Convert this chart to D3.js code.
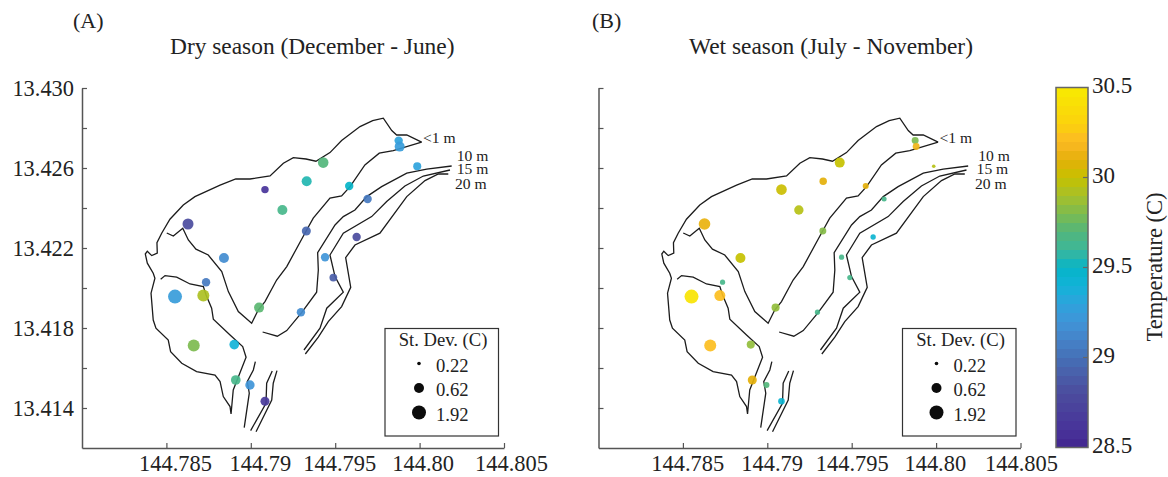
<!DOCTYPE html>
<html>
<head>
<meta charset="utf-8">
<script src="https://cdn.jsdelivr.net/npm/d3@7"></script>
<style>
  body { margin: 0; background: #fff; }
  text { font-family: "Liberation Serif", serif; fill: #222; }
</style>
</head>
<body>
<div id="chart"></div>
<script>
// station positions, same in both seasons
var stationLon = [144.79876, 144.79882, 144.79986, 144.79429, 144.79331, 144.79583, 144.79692, 144.79187, 144.79329, 144.79627, 144.7944, 144.79489, 144.79084, 144.78628, 144.78841, 144.78735, 144.78551, 144.78719, 144.79049, 144.79297, 144.78662, 144.78902, 144.78911, 144.78995, 144.79084];
var stationLat = [13.42737, 13.42707, 13.42609, 13.42627, 13.42534, 13.4251, 13.42445, 13.4239, 13.42285, 13.42255, 13.42154, 13.42052, 13.42492, 13.4232, 13.4215, 13.42029, 13.41957, 13.41962, 13.41902, 13.41879, 13.41712, 13.41717, 13.4154, 13.41515, 13.41434];

var dryTemp = [29.3, 29.25, 29.3, 29.7, 29.55, 29.5, 29.05, 29.65, 28.95, 28.8, 29.2, 28.9, 28.6, 28.8, 29.15, 29.05, 29.25, 29.92, 29.72, 29.15, 29.8, 29.4, 29.65, 29.2, 28.65];
var drySd = [0.52, 0.62, 0.5, 0.8, 0.62, 0.52, 0.52, 0.62, 0.56, 0.52, 0.52, 0.48, 0.46, 0.95, 0.62, 0.52, 1.92, 1.27, 0.62, 0.52, 1.27, 0.6, 0.6, 0.58, 0.56];

var wetTemp = [29.8, 30.15, 29.95, 30, 30.1, 30.1, 29.65, 29.95, 29.82, 29.45, 29.65, 29.65, 30.02, 30.12, 30, 29.65, 30.45, 30.22, 29.85, 29.65, 30.22, 29.85, 30.1, 29.7, 29.45];
var wetSd = [0.43, 0.43, 0.22, 0.62, 0.46, 0.37, 0.31, 0.58, 0.43, 0.33, 0.32, 0.32, 0.82, 1.14, 0.62, 0.32, 1.92, 0.95, 0.5, 0.32, 1.27, 0.5, 0.56, 0.37, 0.41];

// depth contours as [lon, lat]
var contour1mOuter = [[144.80012,13.42729],[144.79924,13.42765],[144.79864,13.42765],[144.79835,13.42787],[144.79785,13.42849],[144.79722,13.42837],[144.79647,13.42807],[144.79538,13.42737],[144.79469,13.42677],[144.79386,13.42634],[144.79327,13.42645],[144.79252,13.42652],[144.79193,13.42624],[144.79114,13.4256],[144.78995,13.42545],[144.78911,13.42545],[144.78818,13.42514],[144.78669,13.42457],[144.786,13.42415],[144.78521,13.42344],[144.78472,13.42274],[144.78444,13.42227],[144.78446,13.42174],[144.78413,13.42162],[144.78387,13.42184],[144.78375,13.4217],[144.78387,13.42124],[144.78422,13.42074],[144.78432,13.42049],[144.78409,13.41974],[144.78422,13.4184],[144.78438,13.41799],[144.78511,13.4174],[144.78525,13.41682],[144.78591,13.41624],[144.78679,13.41582],[144.78788,13.41565],[144.78818,13.41532],[144.78837,13.41457],[144.78877,13.41407],[144.78883,13.4137],[144.78896,13.4149],[144.78972,13.41654],[144.78952,13.41707],[144.78877,13.41765],[144.78778,13.41844],[144.78768,13.41899],[144.78735,13.41965],[144.78719,13.42007],[144.7864,13.4202],[144.78561,13.42054],[144.78492,13.42062],[144.78466,13.42044]];
var contour1mInner = [[144.78502,13.42275],[144.78541,13.4226],[144.78597,13.42299],[144.7863,13.4224],[144.78675,13.42194],[144.78748,13.42165],[144.78828,13.42082],[144.78867,13.41982],[144.78926,13.41882],[144.79005,13.41824],[144.79044,13.4189],[144.79084,13.41932],[144.79153,13.4204],[144.79213,13.42107],[144.79331,13.4229],[144.7937,13.42349],[144.79469,13.42449],[144.79538,13.4246],[144.79588,13.42507],[144.79676,13.42615],[144.79761,13.42674],[144.79844,13.42687],[144.80012,13.42729]];
var contour10mUpper = [[144.8019,13.4261],[144.80042,13.42594],[144.79924,13.42574],[144.79775,13.42507],[144.79687,13.42457],[144.79617,13.4239],[144.79548,13.42357],[144.79499,13.42315],[144.79396,13.42177],[144.794,13.4209],[144.7939,13.41979],[144.79301,13.41877],[144.79213,13.41787],[144.79157,13.41759],[144.7907,13.4178]];
var contour10mLower = [[144.79027,13.41632],[144.79015,13.4159],[144.78979,13.41532],[144.78991,13.41474],[144.78961,13.41302]];
var contour15mUpper = [[144.8018,13.4259],[144.80022,13.4256],[144.79913,13.4251],[144.79805,13.42432],[144.79716,13.42357],[144.79548,13.42274],[144.79469,13.42165],[144.79499,13.42057],[144.79548,13.41979],[144.7945,13.41899],[144.7941,13.41799],[144.79315,13.4169]];
var contour15mLower = [[144.79127,13.41585],[144.79094,13.41524],[144.7909,13.41424],[144.78999,13.41287]];
var contour20mUpper = [[144.8017,13.4257],[144.80111,13.4257],[144.80032,13.42537],[144.79924,13.42457],[144.79765,13.42274],[144.79617,13.42215],[144.79562,13.42152],[144.79592,13.42003],[144.79538,13.41907],[144.79459,13.41832],[144.794,13.41754],[144.79323,13.4167]];
var contour20mLower = [[144.79155,13.41587],[144.79133,13.41524],[144.79124,13.4144],[144.79031,13.41281]];
var contours = [contour1mOuter, contour1mInner, contour10mUpper, contour10mLower, contour15mUpper, contour15mLower, contour20mUpper, contour20mLower];

var contourNames = ["<1 m", "10 m", "15 m", "20 m"];
var contourNameLat = [13.42725, 13.42637, 13.42569, 13.42494];
var contourNameLonA = [144.8002, 144.8022, 144.8022, 144.8021];
var contourNameLonB = [144.8002, 144.8025, 144.8024, 144.8023];

var xTicks = [144.785, 144.79, 144.795, 144.80, 144.805];
var xTickLabels = ["144.785", "144.79", "144.795", "144.80", "144.805"];
var yTicks = [13.414, 13.416, 13.418, 13.42, 13.422, 13.424, 13.426, 13.428, 13.43];
var yTickLabels = ["13.414", "", "13.418", "", "13.422", "", "13.426", "", "13.430"];

var legendSd = [0.22, 0.62, 1.92];
var colorTicks = [28.5, 29, 29.5, 30, 30.5];
var colorTickLabels = ["28.5", "29", "29.5", "30", "30.5"];
var colorDomain = [28.5, 28.6, 28.8, 28.9, 29, 29.1, 29.2, 29.3, 29.4, 29.5, 29.6, 29.7, 29.8, 29.9, 30, 30.1, 30.2, 30.3, 30.5];
var colorRange = ["#432690", "#48339a", "#4b4c9e", "#4a5da8", "#4570b7", "#4583c8", "#3f95d8", "#2ea3dc", "#12b3d8", "#06b4c8", "#3db79a", "#53b67b", "#7dbb4f", "#a6c02a", "#c5c100", "#e4b00a", "#fcb925", "#fbd20c", "#f8ea00"];

var color = d3.scaleLinear().domain(colorDomain).range(colorRange).clamp(true);
var size = d3.scaleLinear().domain(legendSd).range([1.8, 5, 7]);

var svg = d3.select("#chart").append("svg")
  .attr("width", 1168)
  .attr("height", 477);

function drawPanel(left, letter, letterX, title, titleX, temp, sd, nameLon, yLabels, nudge, legendX) {
  var x = d3.scaleLinear().domain([144.78, 144.805]).range([left, left + 422]);
  var y = d3.scaleLinear().domain([13.412, 13.43]).range([448, 88]);

  var line = d3.line().x(d => x(d[0])).y(d => y(d[1]));

  svg.append("text").attr("x", letterX).attr("y", 28)
    .style("font-size", "22px").text(letter);
  svg.append("text").attr("x", titleX).attr("y", 54)
    .style("font-size", "23.4px").text(title);

  svg.append("g").selectAll("path")
    .data(contours)
    .enter().append("path")
    .attr("d", line)
    .attr("fill", "none")
    .attr("stroke", "#1c1c1c")
    .attr("stroke-width", 1.3);

  svg.append("g").selectAll("circle")
    .data(d3.range(stationLon.length))
    .enter().append("circle")
    .attr("cx", i => x(stationLon[i]))
    .attr("cy", i => y(stationLat[i]))
    .attr("r", i => size(sd[i]))
    .attr("fill", i => color(temp[i]))
    .attr("fill-opacity", 0.92);

  svg.append("g").selectAll("text")
    .data(contourNames)
    .enter().append("text")
    .attr("x", (d, i) => x(nameLon[i]))
    .attr("y", (d, i) => y(contourNameLat[i]))
    .style("font-size", "15.6px")
    .text(d => d);

  // axes
  var xAxis = svg.append("g")
    .attr("transform", "translate(0,448)")
    .call(d3.axisBottom(x).tickValues(xTicks).tickSize(-5).tickSizeOuter(0)
      .tickFormat((d, i) => xTickLabels[i]));
  xAxis.selectAll("text")
    .attr("dx", (d, i) => nudge[i])
    .attr("y", 7.5)
    .style("font-size", "22.4px");

  var yAxis = svg.append("g")
    .attr("transform", "translate(" + left + ",0)")
    .call(d3.axisLeft(y).tickValues(yTicks).tickSize(-5).tickSizeOuter(0)
      .tickFormat((d, i) => yLabels[i]));
  yAxis.selectAll("text")
    .attr("x", -8)
    .style("font-size", "22.4px");

  [xAxis, yAxis].forEach(function (a) {
    a.style("font-family", null);
    a.selectAll("path").attr("stroke", "#555").attr("stroke-width", 1.5);
    a.selectAll("line").attr("stroke", "#555").attr("stroke-width", 1.2);
    a.selectAll("text").attr("fill", "#222");
  });

  // size key
  svg.append("rect")
    .attr("x", legendX).attr("y", 328.5)
    .attr("width", 113.5).attr("height", 107.5)
    .attr("fill", "#fff")
    .attr("stroke", "#333")
    .attr("stroke-width", 1.2);
  svg.append("text")
    .attr("x", legendX + 58).attr("y", 346)
    .attr("text-anchor", "middle")
    .style("font-size", "18.6px")
    .text("St. Dev. (C)");

  var keyY = d3.scalePoint().domain(legendSd).range([363.5, 412.5]);
  svg.append("g").selectAll("circle")
    .data(legendSd)
    .enter().append("circle")
    .attr("cx", legendX + 34)
    .attr("cy", d => keyY(d))
    .attr("r", d => size(d))
    .attr("fill", "#0c0c0c");
  svg.append("g").selectAll("text")
    .data(legendSd)
    .enter().append("text")
    .attr("x", legendX + 51)
    .attr("y", d => keyY(d) + 8)
    .style("font-size", "18.6px")
    .text(d => d);
}

drawPanel(82, "(A)", 73, "Dry season (December - June)", 170, dryTemp, drySd, contourNameLonA,
  yTickLabels, [8.6, 9, 4, 3, 7], 385);
drawPanel(598.5, "(B)", 592, "Wet season (July - November)", 689, wetTemp, wetSd, contourNameLonB,
  yTicks.map(() => ""), [4.3, 4.3, 0, -1.3, 0.5], 902.5);

// color bar
var barY = d3.scaleLinear().domain([28.5, 30.5]).range([447.5, 87.5]);
var barSteps = d3.range(28.5, 30.5, 0.05);

svg.append("g").selectAll("rect")
  .data(barSteps)
  .enter().append("rect")
  .attr("x", 1056)
  .attr("y", d => barY(d + 0.05))
  .attr("width", 32)
  .attr("height", d => barY(d) - barY(d + 0.05) + 0.5)
  .attr("fill", d => color(d + 0.025));

svg.append("rect")
  .attr("x", 1056).attr("y", 87.5)
  .attr("width", 32).attr("height", 360)
  .attr("fill", "none")
  .attr("stroke", "#666")
  .attr("stroke-width", 1.5);

svg.append("g").selectAll("line")
  .data(colorTicks.slice(1, -1))
  .enter().append("line")
  .attr("x1", 1083).attr("x2", 1088)
  .attr("y1", d => barY(d)).attr("y2", d => barY(d))
  .attr("stroke", "#666")
  .attr("stroke-width", 1.2);

svg.append("g").selectAll("text")
  .data(colorTicks)
  .enter().append("text")
  .attr("x", 1092)
  .attr("y", d => barY(d) + 5)
  .style("font-size", "23px")
  .text((d, i) => colorTickLabels[i]);

svg.append("text")
  .attr("transform", "translate(1162,267) rotate(-90)")
  .attr("text-anchor", "middle")
  .style("font-size", "22.5px")
  .text("Temperature (C)");
</script>
</body>
</html>
